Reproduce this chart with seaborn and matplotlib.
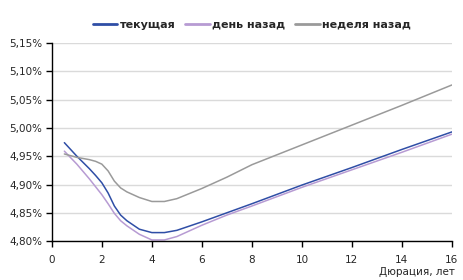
import numpy as np
import pandas as pd
import matplotlib
matplotlib.use("Agg")
import matplotlib.pyplot as plt
import seaborn as sns
from matplotlib.ticker import FuncFormatter, MultipleLocator

# Duration (years) and yields (%)
duration = [0.5, 1, 1.5, 1.75, 2, 2.25, 2.5, 2.75, 3, 3.5, 4, 4.5, 5, 6, 7, 8, 10, 12, 14, 16]
current = [4.974, 4.950, 4.928, 4.916, 4.903, 4.885, 4.862, 4.846, 4.836, 4.821, 4.815, 4.815,
           4.819, 4.834, 4.850, 4.866, 4.899, 4.930, 4.962, 4.993]
day_ago = [4.959, 4.936, 4.910, 4.896, 4.882, 4.866, 4.849, 4.836, 4.827, 4.812, 4.802, 4.802,
           4.808, 4.828, 4.846, 4.862, 4.895, 4.926, 4.957, 4.989]
week_ago = [4.954, 4.948, 4.944, 4.941, 4.936, 4.924, 4.906, 4.894, 4.887, 4.877, 4.870, 4.870,
            4.875, 4.893, 4.913, 4.935, 4.970, 5.005, 5.040, 5.076]

labels = ["текущая", "день назад", "неделя назад"]
colors = ["#2F4EA6", "#B79BD3", "#9A9A9A"]

df = pd.DataFrame({
    "duration": duration * 3,
    "yield": current + day_ago + week_ago,
    "series": [labels[0]] * len(duration) + [labels[1]] * len(duration) + [labels[2]] * len(duration),
})

sns.set_style("white")
plt.rcParams["font.family"] = ["DejaVu Sans"]

fig = plt.figure(figsize=(4.63, 2.80), dpi=100)
ax = fig.add_axes([0.112, 0.139, 0.864, 0.707])

sns.lineplot(data=df, x="duration", y="yield", hue="series", palette=colors,
             linewidth=1.1, ax=ax, legend=True)

ax.set_xlim(0, 16)
ax.set_ylim(4.80, 5.15)
ax.xaxis.set_major_locator(MultipleLocator(2))
ax.yaxis.set_major_locator(MultipleLocator(0.05))
ax.yaxis.set_major_formatter(FuncFormatter(lambda v, p: f"{v:.2f}%".replace(".", ",")))

ax.grid(axis="y", color="#DADADA", linewidth=1)
ax.set_axisbelow(True)
for s in ["top", "right"]:
    ax.spines[s].set_visible(False)
for s in ["left", "bottom"]:
    ax.spines[s].set_color("black")
    ax.spines[s].set_linewidth(1)
ax.tick_params(axis="both", direction="out", length=4, width=1, color="black",
               labelsize=7.5, left=True, bottom=True)
ax.tick_params(axis="x", pad=6)
ax.tick_params(axis="y", pad=3)

ax.set_xlabel("")
ax.set_ylabel("")
fig.text(0.982, 0.01, "Дюрация, лет", ha="right", va="bottom", fontsize=7.5)

leg = ax.legend(loc="lower center", bbox_to_anchor=(0.5, 1.045), ncol=3, frameon=False,
                prop={"weight": "bold", "size": 8}, handlelength=2.2, handletextpad=0.2,
                columnspacing=0.9, borderaxespad=0)
for line in leg.get_lines():
    line.set_linewidth(2)

fig.savefig("out.png", dpi=100)
